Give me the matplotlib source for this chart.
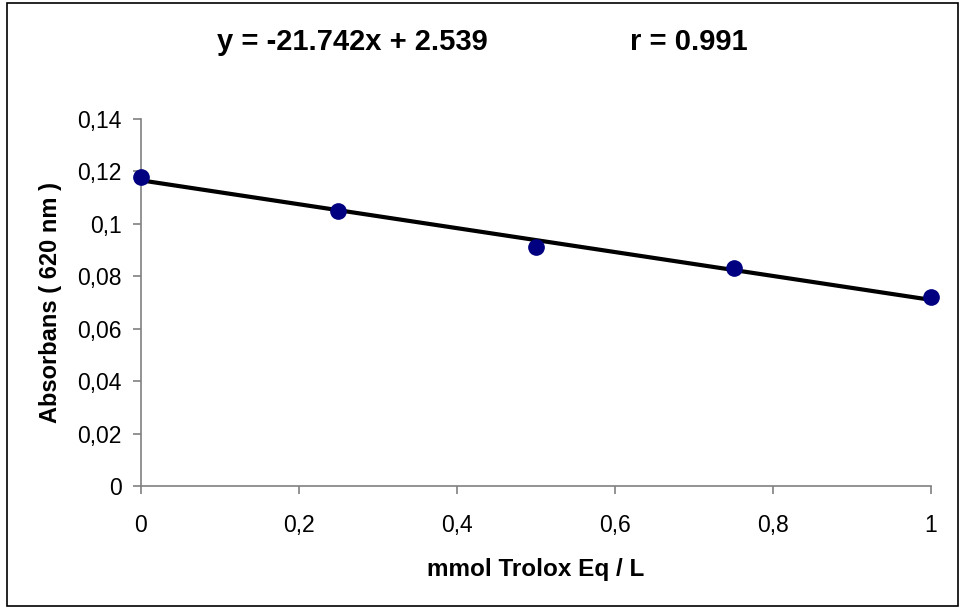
import numpy as np
import matplotlib.pyplot as plt
from matplotlib.patches import Rectangle
from matplotlib.ticker import FuncFormatter

plt.rcParams['font.family'] = ['Liberation Sans', 'DejaVu Sans']

# datos
conc = np.array([0, 0.25, 0.5, 0.75, 1])
absorb = np.array([0.118, 0.105, 0.091, 0.083, 0.072])

ecuacion = 'y = -21.742x + 2.539'
coef_r = 'r = 0.991'

# recta de regresion
m, b = np.polyfit(conc, absorb, 1)
xx = np.array([conc.min(), conc.max()])
yy = m*xx + b

fig = plt.figure(figsize=(9.61, 6.09), dpi=100)
ax = fig.add_axes([0.1467, 0.202, 0.8221, 0.6026])

ax.plot(xx, yy, color='black', lw=3, zorder=2, clip_on=False)
ax.plot(conc, absorb, 'o', color='#000080', ms=11, zorder=3, clip_on=False)

ax.set_xlim(0, 1)
ax.set_ylim(0, 0.14)
ax.set_xticks([0, 0.2, 0.4, 0.6, 0.8, 1])
ax.set_yticks(np.arange(0, 0.141, 0.02))

coma = FuncFormatter(lambda v, p: ('%g' % round(v, 4)).replace('.', ','))
ax.xaxis.set_major_formatter(coma)
ax.yaxis.set_major_formatter(coma)

for s in ['top', 'right']:
    ax.spines[s].set_visible(False)
for s in ['left', 'bottom']:
    ax.spines[s].set_color('#808080')
    ax.spines[s].set_linewidth(1.2)
ax.tick_params(direction='out', length=6, width=1.2, color='#808080',
               labelsize=16.5, labelcolor='black')
ax.tick_params(axis='x', pad=14)
ax.tick_params(axis='y', pad=8)

ax.set_xlabel('mmol Trolox Eq / L', fontsize=17.5, fontweight='bold')
ax.xaxis.set_label_coords(0.5, -0.196)
ax.set_ylabel('Absorbans ( 620 nm )', fontsize=17, fontweight='bold', labelpad=11)

fig.text(0.367, 0.931, ecuacion, ha='center', va='center',
         fontsize=21, fontweight='bold')
fig.text(0.717, 0.931, coef_r, ha='center', va='center',
         fontsize=21, fontweight='bold')

# marco exterior
fig.patches.append(Rectangle((0.0073, 0.0049), 0.9896, 0.990, transform=fig.transFigure,
                             fill=False, edgecolor='black', lw=1.2))

fig.savefig('out.png', dpi=100)
